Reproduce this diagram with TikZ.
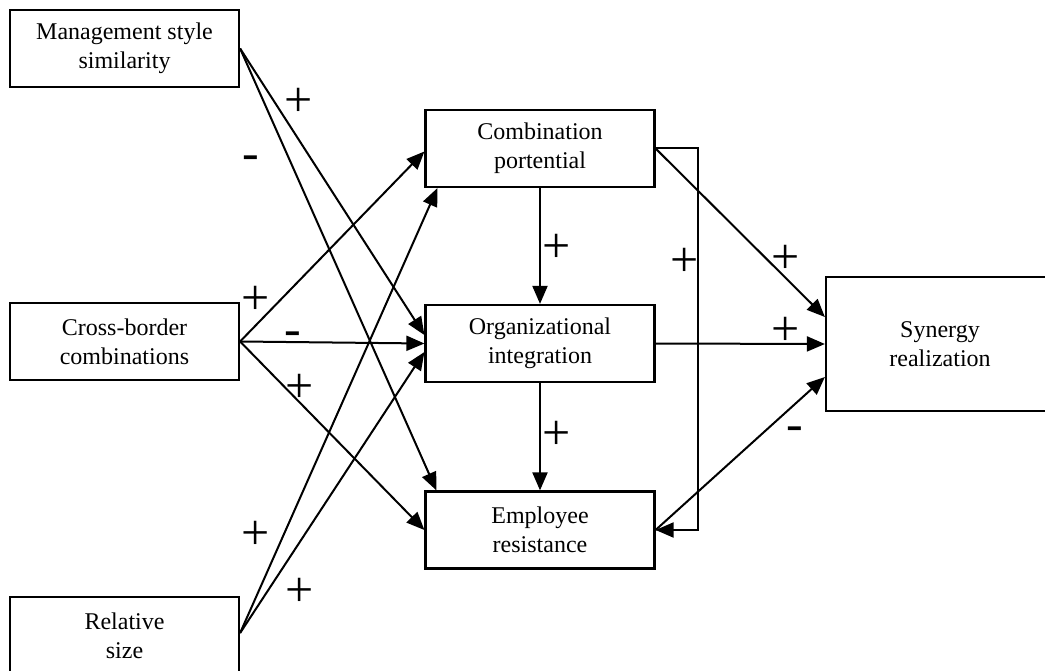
\documentclass[tikz,border=0pt]{standalone}
\usepackage{fontspec}
\setmainfont{Liberation Serif}
\usetikzlibrary{arrows.meta,calc}

\begin{document}
\begin{tikzpicture}[x=1pt,y=-1pt,
  box/.style={draw, line width=2.2pt, rectangle, minimum width=229pt,
    minimum height=77pt, inner sep=0pt, align=center,
    font=\fontsize{24}{29}\selectfont},
  link/.style={line width=2pt, -{Triangle[length=18pt,width=15pt]}},
  sign/.style={font=\fontsize{50}{50}\selectfont, inner sep=0pt,
    text height=25pt, text depth=0pt}]
\clip (0,0) rectangle (1045,671);

% antecedents
\node[box] (mss) at (124.5,48.5)  {Management style\\similarity};
\node[box] (cbc) at (124.5,341.5) {Cross-border\\combinations};
\node[box] (rs)  at (124.5,635.5) {Relative\\size};

% mediators
\node[box] (cp) at (540,148.5) {Combination\\portential};
\node[box] (oi) at (540,343.5) {Organizational\\integration};
\node[box] (er) at (540,530)   {Employee\\resistance};

% outcome
\node[box, minimum width=228pt, minimum height=134pt] (sr) at (940,344)
  {Synergy\\realization};

% management style similarity
\draw[link] (mss.east) -- ($(oi.west)+(0,-8.5)$);
\draw[link] (mss.east) -- ($(er.north west)+(12,0)$);

% cross-border combinations
\draw[link] (cbc.east) -- ($(cp.west)+(0,3)$);
\draw[link] (cbc.east) -- (oi.west);
\draw[link] (cbc.east) -- (er.west);

% relative size
\coordinate (rsout) at ($(rs.east)+(0,-2.5)$);
\draw[link] (rsout) -- ($(cp.south west)+(13,0)$);
\draw[link] (rsout) -- ($(oi.west)+(0,8.5)$);

% mediator chain
\draw[link] (cp.south) -- (oi.north);
\draw[link] (oi.south) -- (er.north);

% combination potential -> employee resistance (loop on the right)
\coordinate (cpout) at (cp.east);
\draw[link] (cpout) -- ++(42,0) |- (er.east);

% paths to synergy realization
\draw[link] (cpout) -- ($(sr.west)+(0,-27)$);
\draw[link] (oi.east) -- (sr.west);
\draw[link] (er.east) -- ($(sr.west)+(0,33)$);

% signs
\node[sign] (s1)  at (299,104) {+};
\node[sign] (s2)  at (251,157) {-};
\node[sign] (s3)  at (256,302) {+};
\node[sign] (s4)  at (293,333) {-};
\node[sign] (s5)  at (300,390) {+};
\node[sign] (s6)  at (256,537) {+};
\node[sign] (s7)  at (300,594) {+};
\node[sign] (s8)  at (557,250) {+};
\node[sign] (s9)  at (557,437) {+};
\node[sign] (s10) at (685,264) {+};
\node[sign] (s11) at (786,261) {+};
\node[sign] (s12) at (786,333) {+};
\node[sign] (s13) at (795,428) {-};
\end{tikzpicture}
\end{document}
